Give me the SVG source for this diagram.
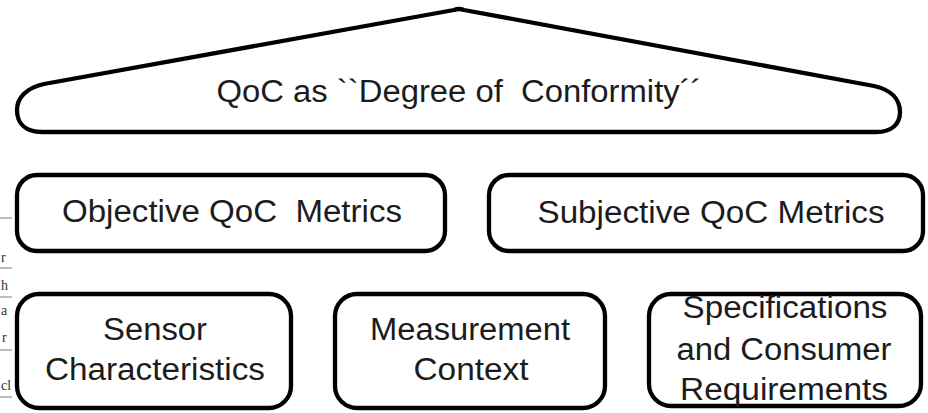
<svg xmlns="http://www.w3.org/2000/svg" width="928" height="413" viewBox="0 0 928 413">
  <style>
    .box { fill: #ffffff; stroke: #000000; stroke-width: 4.3; stroke-linejoin: round; }
    .lbl { font-family: "Liberation Sans", Arial, sans-serif; font-size: 31px; fill: #1c1c1c; text-anchor: middle; }
    .edge { font-family: "Liberation Serif", "Times New Roman", serif; font-size: 14px; fill: #333333; }
    .rule { stroke: #9a9a9a; stroke-width: 1.3; }
  </style>
  <rect width="928" height="413" fill="#ffffff"/>

  <!-- fragment of a neighbouring table at the left margin -->
  <g id="margin-fragment">
    <line class="rule" x1="0" y1="218" x2="12" y2="218"/>
    <text class="edge" x="1" y="262">r</text>
    <line class="rule" x1="0" y1="268" x2="12" y2="268"/>
    <text class="edge" x="1" y="290">h</text>
    <line class="rule" x1="0" y1="297" x2="12" y2="297"/>
    <text class="edge" x="1" y="315">a</text>
    <text class="edge" x="2" y="342">r</text>
    <line class="rule" x1="0" y1="350" x2="12" y2="350"/>
    <text class="edge" x="1" y="390">cl</text>
    <line class="rule" x1="0" y1="397" x2="12" y2="397"/>
  </g>

  <!-- roof -->
  <g id="qoc-roof">
    <path class="box" d="M 44,84 L 454,10 Q 459,8 464,10 L 874,86 C 892,90 900,100 900,112 C 900,124 892,132 876,132 L 42,132 C 26,132 17,124 17,110 C 17,98 26,88 44,84 Z"/>
    <text class="lbl" x="459" y="102" textLength="485" lengthAdjust="spacingAndGlyphs" xml:space="preserve">QoC as ``Degree of  Conformity´´</text>
  </g>

  <!-- metrics row -->
  <g id="objective-metrics">
    <rect class="box" x="17" y="175" width="428" height="76" rx="20"/>
    <text class="lbl" x="232" y="222" textLength="340" lengthAdjust="spacingAndGlyphs" xml:space="preserve">Objective QoC  Metrics</text>
  </g>
  <g id="subjective-metrics">
    <rect class="box" x="489" y="175" width="434" height="76" rx="20"/>
    <text class="lbl" x="711" y="223" textLength="347" lengthAdjust="spacingAndGlyphs">Subjective QoC Metrics</text>
  </g>

  <!-- foundation row -->
  <g id="sensor-characteristics">
    <rect class="box" x="17" y="294" width="274" height="114" rx="22"/>
    <text class="lbl" x="155" y="340" textLength="104" lengthAdjust="spacingAndGlyphs">Sensor</text>
    <text class="lbl" x="155" y="380" textLength="220" lengthAdjust="spacingAndGlyphs">Characteristics</text>
  </g>
  <g id="measurement-context">
    <rect class="box" x="335" y="294" width="270" height="114" rx="22"/>
    <text class="lbl" x="470" y="340" textLength="200" lengthAdjust="spacingAndGlyphs">Measurement</text>
    <text class="lbl" x="471" y="380" textLength="115" lengthAdjust="spacingAndGlyphs">Context</text>
  </g>
  <g id="consumer-requirements">
    <rect class="box" x="649" y="294" width="272" height="112" rx="22"/>
    <text class="lbl" x="785" y="318" textLength="205" lengthAdjust="spacingAndGlyphs">Specifications</text>
    <text class="lbl" x="784" y="360" textLength="215" lengthAdjust="spacingAndGlyphs">and Consumer</text>
    <text class="lbl" x="784" y="400" textLength="208" lengthAdjust="spacingAndGlyphs">Requirements</text>
  </g>
</svg>
